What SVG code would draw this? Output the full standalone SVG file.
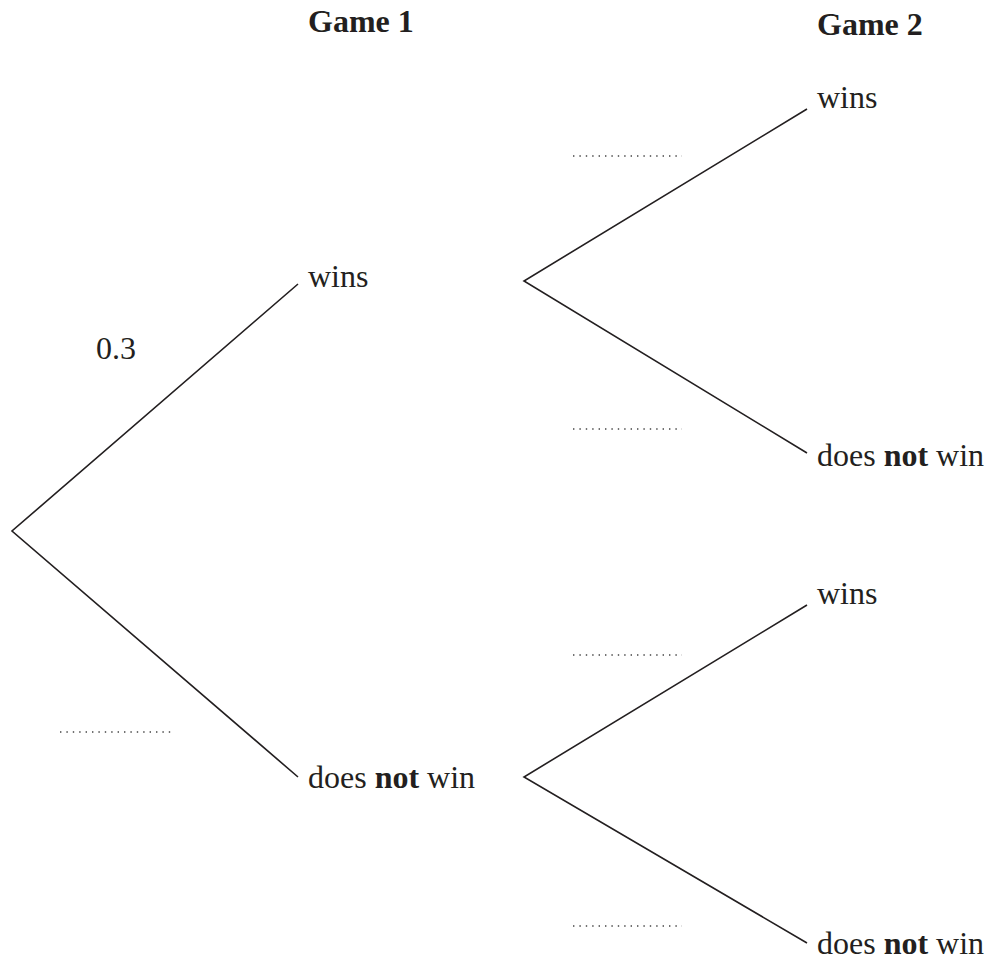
<svg xmlns="http://www.w3.org/2000/svg" width="993" height="962" viewBox="0 0 993 962">
<style>
text{font-family:"Liberation Serif",Tinos,"Times New Roman",Times,"Nimbus Roman","DejaVu Serif",serif;font-size:32px;fill:#231f20}
.h{font-weight:bold}
.b{font-weight:bold}
.edge{stroke:#231f20;stroke-width:1.6;fill:none}
.dots{stroke:#444;stroke-width:1.4;stroke-dasharray:1.4 5;fill:none}
</style>
<rect width="993" height="962" fill="#fff"/>
<g id="headers">
<text class="h" x="308" y="32">Game 1</text>
<text class="h" x="817" y="35">Game 2</text>
</g>
<g id="connectors">
<path class="edge" d="M298,284 L12,531 L298,777"/>
<path class="edge" d="M807,109 L524,281 L807,453"/>
<path class="edge" d="M807,605 L524,777 L807,943"/>
</g>
<g id="n-g1-wins"><text x="308" y="287">wins</text></g>
<g id="n-g1-notwin"><text x="308" y="788">does <tspan class="b">not</tspan> win</text></g>
<g id="n-g2-wins-a"><text x="817" y="108">wins</text></g>
<g id="n-g2-notwin-a"><text x="817" y="466">does <tspan class="b">not</tspan> win</text></g>
<g id="n-g2-wins-b"><text x="817" y="604">wins</text></g>
<g id="n-g2-notwin-b"><text x="817" y="954">does <tspan class="b">not</tspan> win</text></g>
<g id="labels">
<text x="96" y="359">0.3</text>
<path class="dots" d="M573,156 H682 M573,429 H682 M573,655 H682 M573,926 H682 M60,732 H171"/>
</g>
</svg>
